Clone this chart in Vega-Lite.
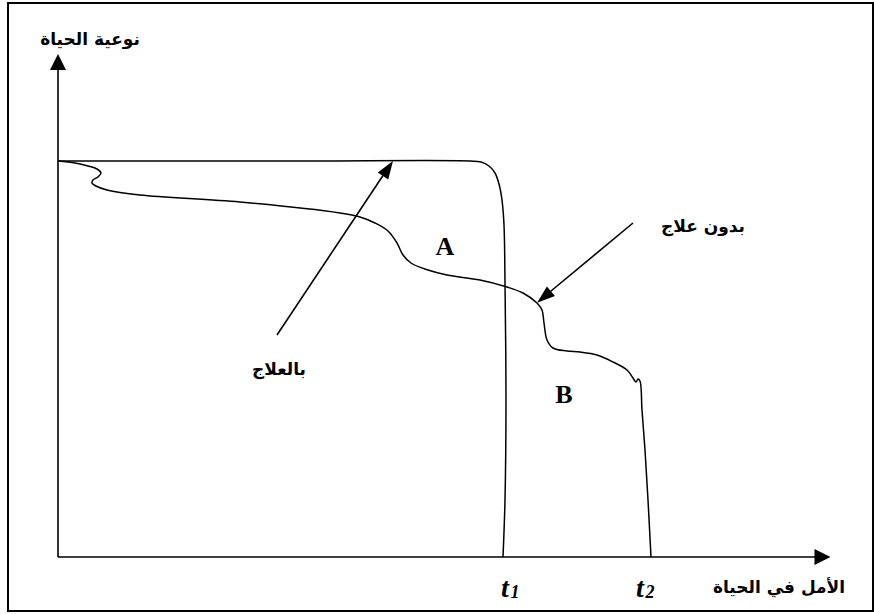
{
  "$schema": "https://vega.github.io/schema/vega-lite/v6.json",
  "width": 874,
  "height": 614,
  "autosize": {"type": "none"},
  "padding": 0,
  "background": "white",
  "config": {"view": {"stroke": null}},
  "datasets": {
    "frame": [{"x": 8, "y": 3, "x2": 873, "y2": 611}],
    "axes": [
      {"axis": "y", "order": 1, "x": 58, "y": 557},
      {"axis": "y", "order": 2, "x": 58, "y": 66},
      {"axis": "x", "order": 1, "x": 58, "y": 557},
      {"axis": "x", "order": 2, "x": 820, "y": 557}
    ],
    "curves": [
      {"curve": "with", "order": 1, "x": 58, "y": 161},
      {"curve": "with", "order": 2, "x": 300, "y": 161},
      {"curve": "with", "order": 3, "x": 470, "y": 161},
      {"curve": "with", "order": 4, "x": 481, "y": 162},
      {"curve": "with", "order": 5, "x": 489, "y": 166},
      {"curve": "with", "order": 6, "x": 495, "y": 173},
      {"curve": "with", "order": 7, "x": 499, "y": 184},
      {"curve": "with", "order": 8, "x": 502, "y": 200},
      {"curve": "with", "order": 9, "x": 504, "y": 225},
      {"curve": "with", "order": 10, "x": 505, "y": 283},
      {"curve": "with", "order": 11, "x": 506, "y": 400},
      {"curve": "with", "order": 12, "x": 505, "y": 500},
      {"curve": "with", "order": 13, "x": 503, "y": 557},
      {"curve": "without", "order": 1, "x": 58, "y": 161},
      {"curve": "without", "order": 2, "x": 75, "y": 163},
      {"curve": "without", "order": 3, "x": 88, "y": 166},
      {"curve": "without", "order": 4, "x": 97, "y": 169},
      {"curve": "without", "order": 5, "x": 101, "y": 173},
      {"curve": "without", "order": 6, "x": 98, "y": 177},
      {"curve": "without", "order": 7, "x": 93, "y": 180},
      {"curve": "without", "order": 8, "x": 92, "y": 183},
      {"curve": "without", "order": 9, "x": 96, "y": 186},
      {"curve": "without", "order": 10, "x": 107, "y": 190},
      {"curve": "without", "order": 11, "x": 140, "y": 195},
      {"curve": "without", "order": 12, "x": 240, "y": 202},
      {"curve": "without", "order": 13, "x": 340, "y": 213},
      {"curve": "without", "order": 14, "x": 360, "y": 217},
      {"curve": "without", "order": 15, "x": 375, "y": 223},
      {"curve": "without", "order": 16, "x": 388, "y": 231},
      {"curve": "without", "order": 17, "x": 397, "y": 243},
      {"curve": "without", "order": 18, "x": 403, "y": 255},
      {"curve": "without", "order": 19, "x": 411, "y": 263},
      {"curve": "without", "order": 20, "x": 428, "y": 270},
      {"curve": "without", "order": 21, "x": 447, "y": 275},
      {"curve": "without", "order": 22, "x": 480, "y": 280},
      {"curve": "without", "order": 23, "x": 507, "y": 287},
      {"curve": "without", "order": 24, "x": 523, "y": 293},
      {"curve": "without", "order": 25, "x": 537, "y": 303},
      {"curve": "without", "order": 26, "x": 542, "y": 310},
      {"curve": "without", "order": 27, "x": 544, "y": 323},
      {"curve": "without", "order": 28, "x": 547, "y": 340},
      {"curve": "without", "order": 29, "x": 553, "y": 348},
      {"curve": "without", "order": 30, "x": 567, "y": 351},
      {"curve": "without", "order": 31, "x": 580, "y": 352},
      {"curve": "without", "order": 32, "x": 597, "y": 355},
      {"curve": "without", "order": 33, "x": 613, "y": 362},
      {"curve": "without", "order": 34, "x": 627, "y": 370},
      {"curve": "without", "order": 35, "x": 633, "y": 378},
      {"curve": "without", "order": 36, "x": 636, "y": 382},
      {"curve": "without", "order": 37, "x": 638, "y": 379},
      {"curve": "without", "order": 38, "x": 640, "y": 381},
      {"curve": "without", "order": 39, "x": 642, "y": 410},
      {"curve": "without", "order": 40, "x": 645, "y": 450},
      {"curve": "without", "order": 41, "x": 648, "y": 500},
      {"curve": "without", "order": 42, "x": 651, "y": 557}
    ],
    "shafts": [
      {"arrow": "with", "order": 1, "x": 277, "y": 335},
      {"arrow": "with", "order": 2, "x": 386, "y": 171},
      {"arrow": "without", "order": 1, "x": 633, "y": 223},
      {"arrow": "without", "order": 2, "x": 545, "y": 296}
    ],
    "heads": [
      {"head": "yaxis", "x": 58, "y": 62},
      {"head": "xaxis", "x": 822.5, "y": 557},
      {"head": "with", "x": 388, "y": 168.5},
      {"head": "without", "x": 544, "y": 297}
    ],
    "labels": [
      {"kind": "ar", "label": "نوعية الحياة", "x": 90, "y": 40},
      {"kind": "ar", "label": "بالعلاج", "x": 279, "y": 370},
      {"kind": "ar", "label": "بدون علاج", "x": 703, "y": 227},
      {"kind": "ar", "label": "الأمل في الحياة", "x": 779, "y": 588},
      {"kind": "region", "label": "A", "x": 445, "y": 247},
      {"kind": "region", "label": "B", "x": 564, "y": 395},
      {"kind": "t", "label": "t", "x": 505, "y": 597},
      {"kind": "t", "label": "t", "x": 640, "y": 597},
      {"kind": "sub", "label": "1", "x": 515, "y": 598},
      {"kind": "sub", "label": "2", "x": 650, "y": 598}
    ]
  },
  "encoding": {
    "x": {"field": "x", "type": "quantitative", "scale": {"domain": [0, 874], "nice": false, "zero": false}, "axis": null},
    "y": {"field": "y", "type": "quantitative", "scale": {"domain": [0, 614], "nice": false, "zero": false, "reverse": true}, "axis": null}
  },
  "layer": [
    {
      "data": {"name": "frame"},
      "mark": {"type": "rect", "fillOpacity": 0, "stroke": "black", "strokeWidth": 2},
      "encoding": {"x2": {"field": "x2"}, "y2": {"field": "y2"}}
    },
    {
      "data": {"name": "axes"},
      "mark": {"type": "line", "color": "black", "strokeWidth": 1.6},
      "encoding": {"detail": {"field": "axis"}, "order": {"field": "order", "type": "quantitative"}}
    },
    {
      "data": {"name": "curves"},
      "mark": {"type": "line", "color": "black", "strokeWidth": 1.5, "interpolate": "catmull-rom"},
      "encoding": {"detail": {"field": "curve"}, "order": {"field": "order", "type": "quantitative"}}
    },
    {
      "data": {"name": "shafts"},
      "mark": {"type": "line", "color": "black", "strokeWidth": 1.6},
      "encoding": {"detail": {"field": "arrow"}, "order": {"field": "order", "type": "quantitative"}}
    },
    {
      "data": {"name": "heads"},
      "transform": [{"filter": "datum.head === 'yaxis'"}],
      "mark": {"type": "point", "shape": "M0,-1L-1,1L1,1Z", "size": 256, "filled": true, "color": "black", "opacity": 1, "angle": 0}
    },
    {
      "data": {"name": "heads"},
      "transform": [{"filter": "datum.head === 'xaxis'"}],
      "mark": {"type": "point", "shape": "M0,-1L-1,1L1,1Z", "size": 256, "filled": true, "color": "black", "opacity": 1, "angle": 90}
    },
    {
      "data": {"name": "heads"},
      "transform": [{"filter": "datum.head === 'with'"}],
      "mark": {"type": "point", "shape": "M0,-1L-0.7,1L0.7,1Z", "size": 324, "filled": true, "color": "black", "opacity": 1, "angle": 33.7}
    },
    {
      "data": {"name": "heads"},
      "transform": [{"filter": "datum.head === 'without'"}],
      "mark": {"type": "point", "shape": "M0,-1L-0.7,1L0.7,1Z", "size": 324, "filled": true, "color": "black", "opacity": 1, "angle": 230.2}
    },
    {
      "data": {"name": "labels"},
      "transform": [{"filter": "datum.kind === 'ar'"}],
      "mark": {"type": "text", "font": "DejaVu Sans", "fontWeight": "bold", "fontSize": 17, "color": "black", "align": "center", "baseline": "middle"},
      "encoding": {"text": {"field": "label"}}
    },
    {
      "data": {"name": "labels"},
      "transform": [{"filter": "datum.kind === 'region'"}],
      "mark": {"type": "text", "font": "Liberation Serif", "fontWeight": "bold", "fontSize": 26, "color": "black", "align": "center", "baseline": "middle"},
      "encoding": {"text": {"field": "label"}}
    },
    {
      "data": {"name": "labels"},
      "transform": [{"filter": "datum.kind === 't'"}],
      "mark": {"type": "text", "font": "Liberation Serif", "fontWeight": "bold", "fontStyle": "italic", "fontSize": 28, "color": "black", "align": "center", "baseline": "alphabetic"},
      "encoding": {"text": {"field": "label"}}
    },
    {
      "data": {"name": "labels"},
      "transform": [{"filter": "datum.kind === 'sub'"}],
      "mark": {"type": "text", "font": "Liberation Serif", "fontWeight": "bold", "fontStyle": "italic", "fontSize": 18, "color": "black", "align": "center", "baseline": "alphabetic"},
      "encoding": {"text": {"field": "label"}}
    }
  ]
}
